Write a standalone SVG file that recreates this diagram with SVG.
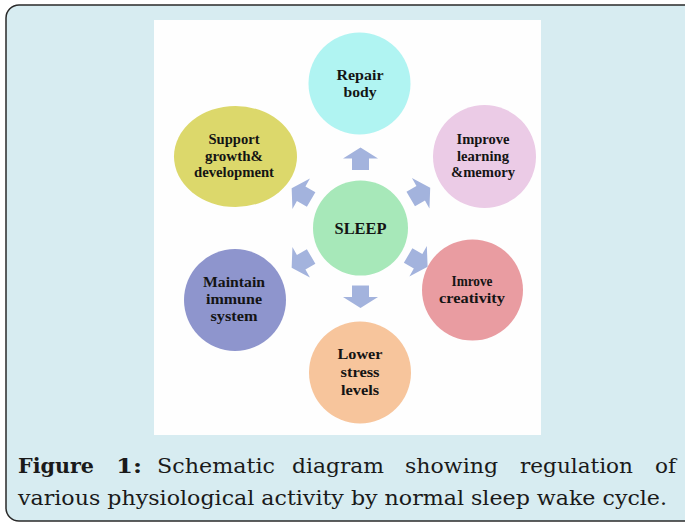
<svg xmlns="http://www.w3.org/2000/svg" width="685" height="523" viewBox="0 0 685 523">
<style>
.lbl{font-family:"Liberation Serif","Times New Roman",serif;font-weight:bold;font-size:15.5px;fill:#141414;text-anchor:middle}
.cap{font-family:"DejaVu Serif Condensed","DejaVu Serif","Liberation Serif",serif;font-size:21px;fill:#1a1a1a}
.capb{font-weight:bold}
.arr{fill:#a3b3dd}
</style>
<defs>
<path id="ar" d="M -8.5 11 L 8.5 11 L 8.5 -0.5 L 17.5 -0.5 L 0 -11.5 L -17.5 -0.5 L -8.5 -0.5 Z"/>
</defs>
<rect x="6" y="5" width="700" height="516" rx="13" fill="#d7ecf1" stroke="#2a2a2a" stroke-width="1.5"/>
<rect x="154" y="20" width="387" height="415" fill="#fefefe"/>
<g id="connectors">
<g transform="translate(360.5,228)">
<use href="#ar" class="arr" transform="rotate(0) translate(0,-69)"/>
<use href="#ar" class="arr" transform="rotate(60) translate(0,-69)"/>
<use href="#ar" class="arr" transform="rotate(120) translate(0,-66)"/>
<use href="#ar" class="arr" transform="rotate(180) translate(0,-68.5)"/>
<use href="#ar" class="arr" transform="rotate(240) translate(0,-68)"/>
<use href="#ar" class="arr" transform="rotate(300) translate(0,-68)"/>
</g>
</g>
<g id="sleep">
<circle cx="360.5" cy="228" r="47.5" fill="#a7e8b9"/>
<text class="lbl" x="360.5" y="233.5" style="font-size:16.5px" textLength="52" lengthAdjust="spacingAndGlyphs">SLEEP</text>
</g>
<g id="repair">
<circle cx="359.5" cy="83.5" r="51" fill="#b0f4f2"/>
<text class="lbl" x="360" y="80" textLength="47" lengthAdjust="spacingAndGlyphs">Repair</text>
<text class="lbl" x="360" y="97" textLength="33" lengthAdjust="spacingAndGlyphs">body</text>
</g>
<g id="learning">
<circle cx="484.5" cy="156.5" r="51.5" fill="#ebcbe6"/>
<text class="lbl" x="483" y="144" textLength="53" lengthAdjust="spacingAndGlyphs">Improve</text>
<text class="lbl" x="483" y="160.5" textLength="52" lengthAdjust="spacingAndGlyphs">learning</text>
<text class="lbl" x="483" y="177" textLength="64" lengthAdjust="spacingAndGlyphs">&amp;memory</text>
</g>
<g id="creativity">
<circle cx="472.5" cy="290" r="50.5" fill="#e99ca1"/>
<text class="lbl" x="472" y="286" textLength="41" lengthAdjust="spacingAndGlyphs">Imrove</text>
<text class="lbl" x="472" y="303" textLength="66" lengthAdjust="spacingAndGlyphs">creativity</text>
</g>
<g id="stress">
<circle cx="360" cy="372.5" r="51" fill="#f7c59c"/>
<text class="lbl" x="360" y="359" textLength="45" lengthAdjust="spacingAndGlyphs">Lower</text>
<text class="lbl" x="360" y="377" textLength="39" lengthAdjust="spacingAndGlyphs">stress</text>
<text class="lbl" x="360" y="395" textLength="38" lengthAdjust="spacingAndGlyphs">levels</text>
</g>
<g id="immune">
<circle cx="235" cy="300" r="51" fill="#8e95cd"/>
<text class="lbl" x="234" y="287" textLength="62" lengthAdjust="spacingAndGlyphs">Maintain</text>
<text class="lbl" x="234" y="304" textLength="56" lengthAdjust="spacingAndGlyphs">immune</text>
<text class="lbl" x="234" y="321" textLength="47" lengthAdjust="spacingAndGlyphs">system</text>
</g>
<g id="growth">
<ellipse cx="235.5" cy="156.5" rx="61.5" ry="50.5" fill="#dcd86b"/>
<text class="lbl" x="234" y="144" textLength="51" lengthAdjust="spacingAndGlyphs">Support</text>
<text class="lbl" x="234" y="160.5" textLength="58" lengthAdjust="spacingAndGlyphs">growth&amp;</text>
<text class="lbl" x="234" y="177" textLength="80" lengthAdjust="spacingAndGlyphs">development</text>
</g>
<g id="caption">
<text class="cap capb" x="18" y="473" textLength="76" lengthAdjust="spacingAndGlyphs">Figure</text>
<text class="cap capb" x="116" y="473" textLength="26" lengthAdjust="spacingAndGlyphs">1:</text>
<text class="cap" x="157" y="473" textLength="118" lengthAdjust="spacingAndGlyphs">Schematic</text>
<text class="cap" x="292" y="473" textLength="92" lengthAdjust="spacingAndGlyphs">diagram</text>
<text class="cap" x="405" y="473" textLength="93" lengthAdjust="spacingAndGlyphs">showing</text>
<text class="cap" x="520" y="473" textLength="113" lengthAdjust="spacingAndGlyphs">regulation</text>
<text class="cap" x="655" y="473" textLength="21" lengthAdjust="spacingAndGlyphs">of</text>
<text class="cap" x="18" y="505" textLength="649" lengthAdjust="spacingAndGlyphs">various physiological activity by normal sleep wake cycle.</text>
</g>
</svg>
